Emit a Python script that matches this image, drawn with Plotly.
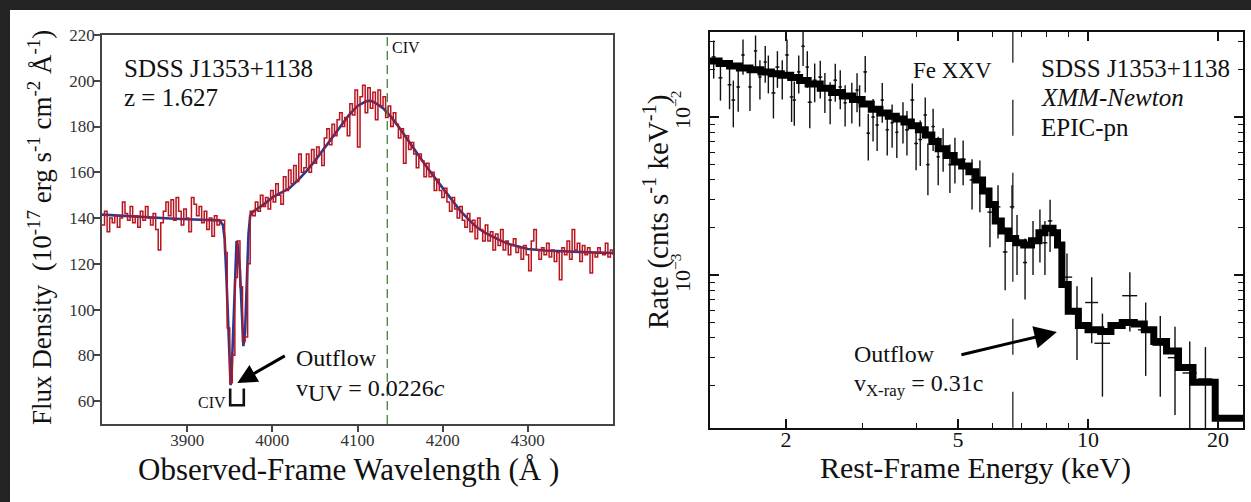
import plotly.graph_objects as go

W, H = 1251, 502
SERIF = "Liberation Serif, Times New Roman, serif"

# ---------------- Left panel: SDSS optical spectrum ----------------
wavelength = list(range(3800, 4401, 3))
flux_observed = [
    137, 143, 134, 140, 138, 141, 136, 140, 147, 142,
    139, 145, 138, 141, 136, 143, 139, 145, 140, 137,
    142, 135, 126, 138, 143, 147, 141, 148, 139, 149,
    143, 137, 144, 140, 134, 149, 146, 141, 145, 138,
    143, 135, 140, 132, 141, 137, 139,
    139, 125, 92, 68, 80, 114, 130, 110, 86, 88, 120, 143,
    141, 147, 143, 150, 145, 149, 144, 152, 147, 155,
    150, 146, 158, 152, 161, 155, 163, 156, 168, 160,
    162, 168, 160, 170, 164, 171, 168, 163, 175, 179,
    172, 181, 176, 183, 186, 180, 184, 176, 190, 185,
    196, 171, 193, 198, 186, 197, 188, 195, 183, 196,
    189, 193, 184, 189, 180, 186, 181, 175, 179, 164,
    176, 170, 173, 168, 162, 168, 165, 158, 164, 158,
    160, 152, 157, 152, 149, 153, 147, 143, 149, 144,
    140, 145, 139, 136, 142, 134, 139, 131, 140, 135,
    130, 137, 130, 134, 126, 133, 128, 135, 126, 130,
    124, 128, 131, 125, 127, 122, 128, 124, 117, 130,
    135, 126, 122, 127, 124, 129, 123, 126, 121, 125,
    113, 127, 124, 130, 122, 135, 126, 129, 121, 128,
    124, 127, 116, 125, 123, 127, 125, 124, 129, 123,
    126, 124,
]
model_wavelength = [
    3800, 3820, 3840, 3860, 3880, 3900, 3920, 3938, 3942, 3944,
    3946, 3948, 3950, 3951, 3952, 3954, 3956, 3958, 3959, 3960,
    3962, 3964, 3966, 3968, 3970, 3972, 3974, 3976, 3980, 3990,
    4000, 4010, 4020, 4030, 4040, 4050, 4060, 4070, 4080, 4090,
    4100, 4110, 4115, 4120, 4130, 4140, 4150, 4160, 4170, 4180,
    4190, 4200, 4210, 4220, 4230, 4240, 4250, 4260, 4270, 4280,
    4290, 4300, 4320, 4340, 4360, 4380, 4400,
]
model_flux = [
    141.5, 141, 140.6, 140.2, 139.8, 139.5, 139.2, 139, 137, 131,
    115, 92, 72, 67, 70, 90, 116, 130, 129, 126,
    117, 96, 84, 90, 112, 133, 141, 142.5, 143.5, 146,
    149, 151, 153, 156.5, 160.5, 165, 170, 175, 180, 185,
    189, 191, 191.3, 190.5, 188, 184, 179, 173.5, 168.5, 163,
    158, 153, 148, 143.5, 139.5, 136, 133.5, 131.5, 129.8, 128.4,
    127.3, 126.5, 125.8, 125.4, 125.1, 124.9, 124.7,
]
civ_emission_wavelength = 4135
left_xticks = [3900, 4000, 4100, 4200, 4300]
left_yticks = [60, 80, 100, 120, 140, 160, 180, 200, 220]

# ---------------- Right panel: XMM-Newton EPIC-pn spectrum ----------------
energy = [
    1.36, 1.41, 1.48, 1.51, 1.55, 1.59, 1.65, 1.70, 1.74, 1.79,
    1.82, 1.87, 1.91, 1.96, 2.01, 2.06, 2.09, 2.14, 2.19, 2.24,
    2.27, 2.33, 2.40, 2.46, 2.53, 2.60, 2.67, 2.74, 2.84, 2.92,
    2.96, 3.05, 3.10, 3.18, 3.25, 3.34, 3.43, 3.52, 3.61, 3.73,
    3.81, 3.92, 4.00, 4.09, 4.20, 4.26, 4.38, 4.50, 4.62, 4.79,
    4.92, 5.14, 5.39, 5.62, 5.93, 6.19, 6.43, 6.67, 6.85, 7.15,
    7.46, 7.74, 7.95, 8.17, 8.94, 9.43, 10.2, 10.8, 12.5, 13.6,
    14.7, 15.9, 17.2, 18.7,
]
rate = [
    0.0240, 0.0177, 0.0160, 0.0128, 0.0155, 0.0247, 0.0155, 0.0262, 0.0179, 0.0223,
    0.0193, 0.0142, 0.0207, 0.0179, 0.0247, 0.0134, 0.0128, 0.0193, 0.0280, 0.0207,
    0.0124, 0.0171, 0.0179, 0.0148, 0.0128, 0.0171, 0.0155, 0.0123, 0.0128, 0.0148,
    0.0123, 0.0193, 0.0079, 0.0100, 0.0089, 0.0128, 0.0083, 0.0092, 0.0080, 0.0096,
    0.0083, 0.0128, 0.0068, 0.0072, 0.0103, 0.0050, 0.0087, 0.0056, 0.0065, 0.0050,
    0.0056, 0.0054, 0.0040, 0.0039, 0.0025, 0.0027, 0.0014, 0.0027, 0.0017, 0.0012,
    0.0016, 0.0019, 0.0016, 0.0022, 0.00097, 0.00057, 0.00067, 0.00037, 0.00074, 0.00045,
    0.00036, 0.00030, 0.00024, 0.00022,
]
rate_err = [
    0.0065, 0.0050, 0.0048, 0.0042, 0.0047, 0.0062, 0.0046, 0.0066, 0.0050, 0.0058,
    0.0052, 0.0044, 0.0054, 0.0050, 0.0062, 0.0041, 0.0040, 0.0052, 0.0070, 0.0054,
    0.0039, 0.0047, 0.0048, 0.0042, 0.0038, 0.0046, 0.0043, 0.0036, 0.0037, 0.0041,
    0.0036, 0.0050, 0.0026, 0.0030, 0.0028, 0.0036, 0.0026, 0.0028, 0.0025, 0.0028,
    0.0026, 0.0035, 0.0022, 0.0023, 0.0030, 0.0018, 0.0026, 0.0019, 0.0020, 0.0017,
    0.0018, 0.0017, 0.0014, 0.0014, 0.0010, 0.0010, 0.0006, 0.0010, 0.0007, 0.0005,
    0.0006, 0.0007, 0.0006, 0.0008, 0.0004, 0.00028, 0.00030, 0.00020, 0.00030, 0.00022,
    0.00019, 0.00017, 0.00014, 0.00013,
]
energy_halfwidth = [
    0.015, 0.015, 0.015, 0.015, 0.015, 0.015, 0.015, 0.015, 0.015, 0.015,
    0.020, 0.020, 0.020, 0.020, 0.020, 0.020, 0.020, 0.020, 0.020, 0.020,
    0.025, 0.025, 0.025, 0.025, 0.025, 0.025, 0.025, 0.025, 0.025, 0.025,
    0.030, 0.030, 0.030, 0.030, 0.030, 0.030, 0.030, 0.030, 0.030, 0.030,
    0.040, 0.040, 0.040, 0.040, 0.040, 0.040, 0.040, 0.040, 0.040, 0.040,
    0.050, 0.070, 0.070, 0.080, 0.080, 0.080, 0.080, 0.080, 0.080, 0.080,
    0.080, 0.100, 0.100, 0.100, 0.250, 0.250, 0.350, 0.450, 0.500, 0.550,
    0.600, 0.600, 0.650, 0.700,
]
model_energy = [
    1.33, 1.40, 1.48, 1.56, 1.65, 1.75, 1.85, 1.95, 2.05, 2.15,
    2.25, 2.40, 2.55, 2.70, 2.85, 3.00, 3.15, 3.30, 3.45, 3.60,
    3.75, 3.90, 4.05, 4.20, 4.35, 4.50, 4.70, 4.90, 5.10, 5.30,
    5.50, 5.70, 5.90, 6.10, 6.30, 6.55, 6.80, 7.10, 7.40, 7.70,
    7.95, 8.30, 8.50, 8.70, 9.00, 9.50, 10.0, 10.7, 11.3, 12.0,
    12.8, 13.5, 14.2, 15.2, 16.2, 17.5, 19.7, 23.5,
]
model_rate = [
    0.0226, 0.0218, 0.0210, 0.0204, 0.0199, 0.0193, 0.0188, 0.0184, 0.0178, 0.0170,
    0.0162, 0.0152, 0.0143, 0.0136, 0.0129, 0.0121, 0.0112, 0.0106, 0.0101, 0.0097,
    0.0093, 0.0088, 0.0083, 0.0077, 0.0070, 0.0063, 0.0057, 0.0052, 0.0049, 0.0045,
    0.0040, 0.0034, 0.0028, 0.0022, 0.0019, 0.0017, 0.0016, 0.00155, 0.00165, 0.00185,
    0.00198, 0.00185, 0.00155, 0.00087, 0.00059, 0.00048, 0.00045, 0.00044, 0.00048, 0.00050,
    0.00049, 0.00045, 0.00038, 0.00033, 0.00026, 0.00021, 0.000124, 0.000124,
]
fe_xxv_energy = 6.7
right_xticks = [2, 5, 10, 20]
right_xminor = [2, 3, 4, 5, 6, 7, 8, 9, 10, 20]
right_yticks = [0.001, 0.01]
right_yminor = [2e-4, 3e-4, 4e-4, 5e-4, 6e-4, 7e-4, 8e-4, 9e-4,
                2e-3, 3e-3, 4e-3, 5e-3, 6e-3, 7e-3, 8e-3, 9e-3, 2e-2, 3e-2]
right_yrange_ends = [1.08e-4, 0.0345]


def px(x):
    return x / W


def py(y):
    return 1 - y / H


fig = go.Figure()

# left panel traces
fig.add_trace(go.Scatter(x=model_wavelength, y=model_flux, mode="lines",
                         line=dict(color="#2b3990", width=2.6),
                         xaxis="x", yaxis="y", hoverinfo="skip"))
fig.add_trace(go.Scatter(x=wavelength, y=flux_observed, mode="lines",
                         line=dict(color="#b8151f", width=1.5, shape="hv"),
                         xaxis="x", yaxis="y"))
fig.add_trace(go.Scatter(x=[civ_emission_wavelength, civ_emission_wavelength], y=[50, 220],
                         mode="lines", line=dict(color="#4d8c3c", width=1.4, dash="9px,5px"),
                         xaxis="x", yaxis="y", hoverinfo="skip"))

# right panel traces
fig.add_trace(go.Scatter(x=[fe_xxv_energy, fe_xxv_energy], y=right_yrange_ends,
                         mode="lines", line=dict(color="#111", width=1.2, dash="36px,37px"),
                         xaxis="x2", yaxis="y2", hoverinfo="skip"))
fig.add_trace(go.Scatter(x=energy, y=rate, mode="markers",
                         marker=dict(size=2, color="#111"),
                         error_y=dict(type="data", array=rate_err, thickness=1.4, width=0, color="#111"),
                         error_x=dict(type="data", array=energy_halfwidth, thickness=1.4, width=0, color="#111"),
                         xaxis="x2", yaxis="y2"))
fig.add_trace(go.Scatter(x=model_energy, y=model_rate, mode="lines",
                         line=dict(color="#000", width=7, shape="hv"),
                         xaxis="x2", yaxis="y2"))


def label(text, x, y, size, xanchor="left", yanchor="middle", angle=0, color="#111"):
    return dict(text=text, x=px(x), y=py(y), xref="paper", yref="paper",
                xanchor=xanchor, yanchor=yanchor, showarrow=False, textangle=angle,
                font=dict(family=SERIF, size=size, color=color))


annotations = [
    # left panel texts
    label("SDSS J1353+1138", 122, 68, 25),
    label("z = 1.627", 122, 97, 25),
    label("CIV", 390, 47, 16),
    label("CIV", 196, 402, 16),
    label("Outflow", 294, 358, 24),
    label("v<sub><span style='font-size:24px'>UV</span></sub> = 0.0226<i>c</i>", 294, 390, 24),
    label("Observed-Frame Wavelength (Å )", 348, 469, 31, xanchor="center"),
    label("Flux Density\u00a0\u00a0(10<sup>-17</sup> erg s<sup>-1</sup> cm<sup>-2</sup> Å<sup>-1</sup>)",
          40, 228, 27, xanchor="center", angle=-90),
    # right panel texts
    label("Fe XXV", 911, 70, 23),
    label("SDSS J1353+1138", 1039, 68, 25),
    label("<i>XMM-Newton</i>", 1039, 97, 25),
    label("EPIC-pn", 1039, 127, 25),
    label("Outflow", 852, 354, 24),
    label("v<sub>X-ray</sub> = 0.31c", 852, 385, 24),
    label("Rest-Frame Energy (keV)", 975, 468, 30, xanchor="center"),
    label("Rate (cnts s<sup>-1</sup> keV<sup>-1</sup>)", 656, 212, 29, xanchor="center", angle=-90),
    label("10<sup>\u22122</sup>", 681, 110, 22, xanchor="center", angle=-90),
    label("10<sup>\u22123</sup>", 681, 272, 22, xanchor="center", angle=-90),
    # arrows
    dict(x=3958.9, y=67.9, xref="x", yref="y", ax=49, ay=-28, text="", showarrow=True,
         arrowhead=2, arrowsize=1.3, arrowwidth=3, arrowcolor="#000"),
    dict(x=0.928, y=-3.361, xref="x2", yref="y2", ax=-97, ay=23, text="", showarrow=True,
         arrowhead=2, arrowsize=1.5, arrowwidth=3, arrowcolor="#000"),
]

shapes = [
    dict(type="rect", xref="paper", yref="paper", x0=0, x1=1, y0=py(10), y1=1,
         fillcolor="#232323", line=dict(width=0), layer="below"),
    dict(type="rect", xref="paper", yref="paper", x0=0, x1=px(10), y0=0, y1=1,
         fillcolor="#232323", line=dict(width=0), layer="below"),
    # bracket joining the two CIV absorption troughs
    dict(type="path", xref="x", yref="y", path="M 3950.5,65.5 L 3950.5,58.2 L 3966.5,58.2 L 3966.5,65.5",
         line=dict(color="#111", width=2.6)),
]

fig.update_layout(
    width=W, height=H, autosize=False,
    margin=dict(l=0, r=0, t=0, b=0, pad=0),
    paper_bgcolor="white", plot_bgcolor="white",
    showlegend=False,
    font=dict(family=SERIF, color="#111"),
    annotations=annotations,
    shapes=shapes,
    xaxis=dict(domain=[px(102), px(613)], range=[3800, 4400], anchor="y", automargin=False,
               tickmode="array", tickvals=left_xticks, ticks="outside", ticklen=6, tickwidth=1.5,
               tickcolor="#444", showline=True, linecolor="#444", linewidth=1.5, mirror=True,
               showgrid=False, zeroline=False, ticklabelstandoff=-6,
               tickfont=dict(family=SERIF, size=17, color="#333")),
    yaxis=dict(domain=[py(424), py(35)], range=[50, 220], anchor="x", automargin=False,
               tickmode="array", tickvals=left_yticks, ticks="outside", ticklen=6, tickwidth=1.5,
               tickcolor="#444", showline=True, linecolor="#444", linewidth=1.5, mirror=True,
               showgrid=False, zeroline=False, ticklabelstandoff=-4,
               tickfont=dict(family=SERIF, size=17, color="#333")),
    xaxis2=dict(type="log", domain=[px(710), px(1243)], range=[0.125, 1.3588], anchor="y2",
                automargin=False,
                tickmode="array", tickvals=right_xticks, ticktext=[str(t) for t in right_xticks],
                ticks="inside", ticklen=9, tickwidth=1.5, tickcolor="#111",
                showline=True, linecolor="#111", linewidth=2, mirror="ticks",
                showgrid=False, zeroline=False, ticklabelstandoff=-9,
                tickfont=dict(family=SERIF, size=22, color="#111"),
                minor=dict(tickmode="array", tickvals=right_xminor, ticks="inside", ticklen=5,
                           tickwidth=1.2, tickcolor="#111", showgrid=False)),
    yaxis2=dict(type="log", domain=[py(428), py(32)], range=[-3.968, -1.462], anchor="x2",
                automargin=False,
                tickmode="array", tickvals=right_yticks, showticklabels=False,
                ticks="inside", ticklen=9, tickwidth=1.5, tickcolor="#111",
                showline=True, linecolor="#111", linewidth=2, mirror="ticks",
                showgrid=False, zeroline=False,
                minor=dict(tickmode="array", tickvals=right_yminor, ticks="inside", ticklen=5,
                           tickwidth=1.2, tickcolor="#111", showgrid=False)),
)

page_fix = (
    "document.documentElement.style.margin='0px';"
    "document.documentElement.style.overflow='hidden';"
    "document.body.style.margin='0px';"
    "document.body.style.padding='0px';"
    "document.body.style.overflow='hidden';"
    "var gd=document.getElementById('{plot_id}');"
    "gd.style.position='absolute';gd.style.left='0px';gd.style.top='0px';"
)

fig.write_html("out.html",
               config={"displayModeBar": False, "responsive": False},
               post_script=page_fix)
